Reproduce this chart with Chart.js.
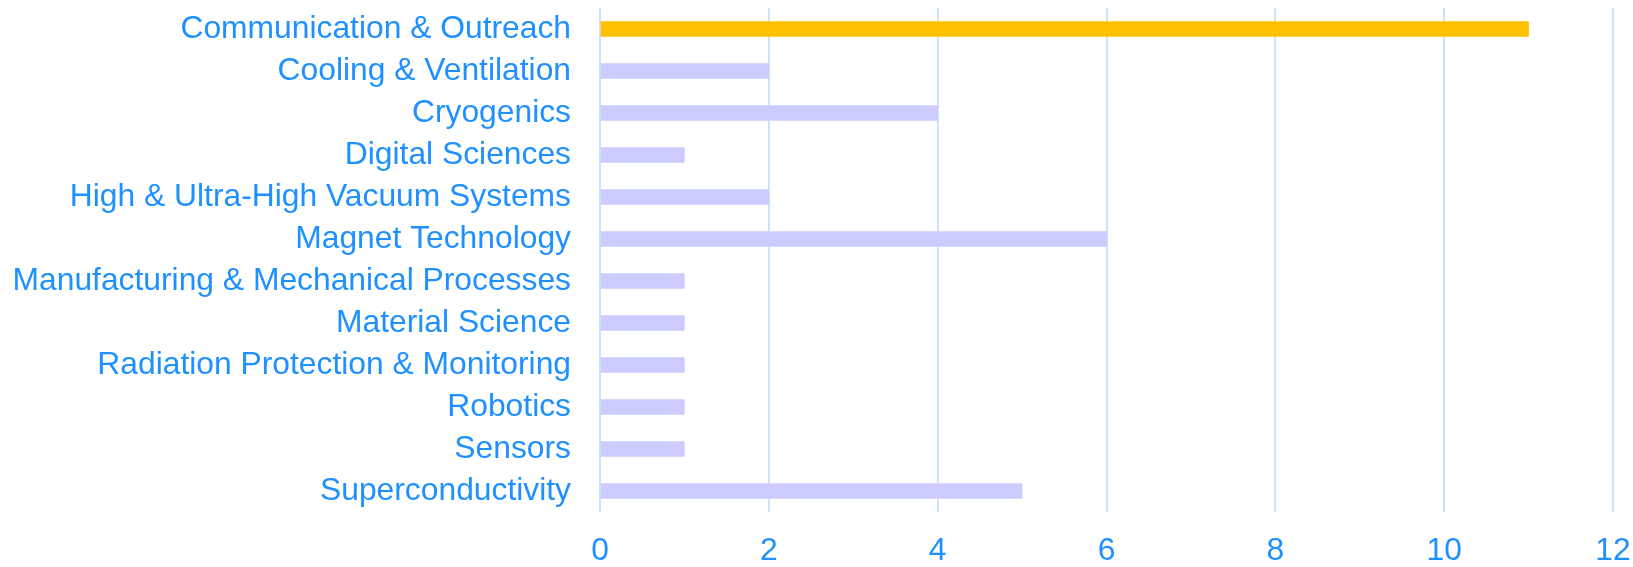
<!DOCTYPE html>
<html>
<head>
<meta charset="utf-8">
<script src="https://cdn.jsdelivr.net/npm/chart.js@4"></script>
<style>
  html, body { margin: 0; padding: 0; background: #fff; }
  #wrap { width: 1633px; height: 567px; }
</style>
</head>
<body>
<div id="wrap"><canvas id="chart"></canvas></div>
<script>
'use strict';

// categories (top to bottom) and their counts
var categories = [
  'Communication & Outreach',
  'Cooling & Ventilation',
  'Cryogenics',
  'Digital Sciences',
  'High & Ultra-High Vacuum Systems',
  'Magnet Technology',
  'Manufacturing & Mechanical Processes',
  'Material Science',
  'Radiation Protection & Monitoring',
  'Robotics',
  'Sensors',
  'Superconductivity'
];
var counts = [11, 2, 4, 1, 2, 6, 1, 1, 1, 1, 1, 5];
var xTicks = [0, 2, 4, 6, 8, 10, 12];

var highlighted = 'Communication & Outreach';

var textBlue = '#1e90ff';
var fontFamily = '"Liberation Sans", Arial, sans-serif';
var barColors = categories.map(function (c) {
  return c === highlighted ? '#ffc000' : '#ccccff';
});

var ctx = document.getElementById('chart').getContext('2d');

var chart = new Chart(ctx, {
  type: 'bar',
  data: {
    labels: categories,
    datasets: [{
      data: counts,
      backgroundColor: barColors,
      barThickness: 15
    }]
  },
  options: {
    indexAxis: 'y',
    responsive: true,
    maintainAspectRatio: false,
    animation: false,
    layout: { padding: { top: 0, right: 20, left: 0, bottom: 0 } },
    plugins: {
      legend: { display: false },
      tooltip: { enabled: false }
    },
    scales: {
      x: {
        min: xTicks[0],
        max: xTicks[xTicks.length - 1],
        afterBuildTicks: function (scale) {
          scale.ticks = xTicks.map(function (v) { return { value: v }; });
        },
        afterFit: function (scale) {
          scale.height = 55;
          scale.paddingLeft = 0;
          scale.paddingRight = 20;
        },
        grid: { color: '#cce4fb', lineWidth: 2, drawTicks: false },
        border: { display: false },
        ticks: {
          color: textBlue,
          padding: 20,
          font: { family: fontFamily, size: 31.8 }
        }
      },
      y: {
        afterFit: function (scale) {
          scale.width = 600;
          // tick padding would otherwise push the plot down
          scale.paddingTop = 8;
          scale.paddingBottom = 0;
        },
        grid: { display: false, drawTicks: false },
        border: { display: false },
        ticks: {
          color: textBlue,
          padding: 29,
          autoSkip: false,
          font: { family: fontFamily, size: 31.8 }
        }
      }
    }
  }
});
</script>
</body>
</html>
